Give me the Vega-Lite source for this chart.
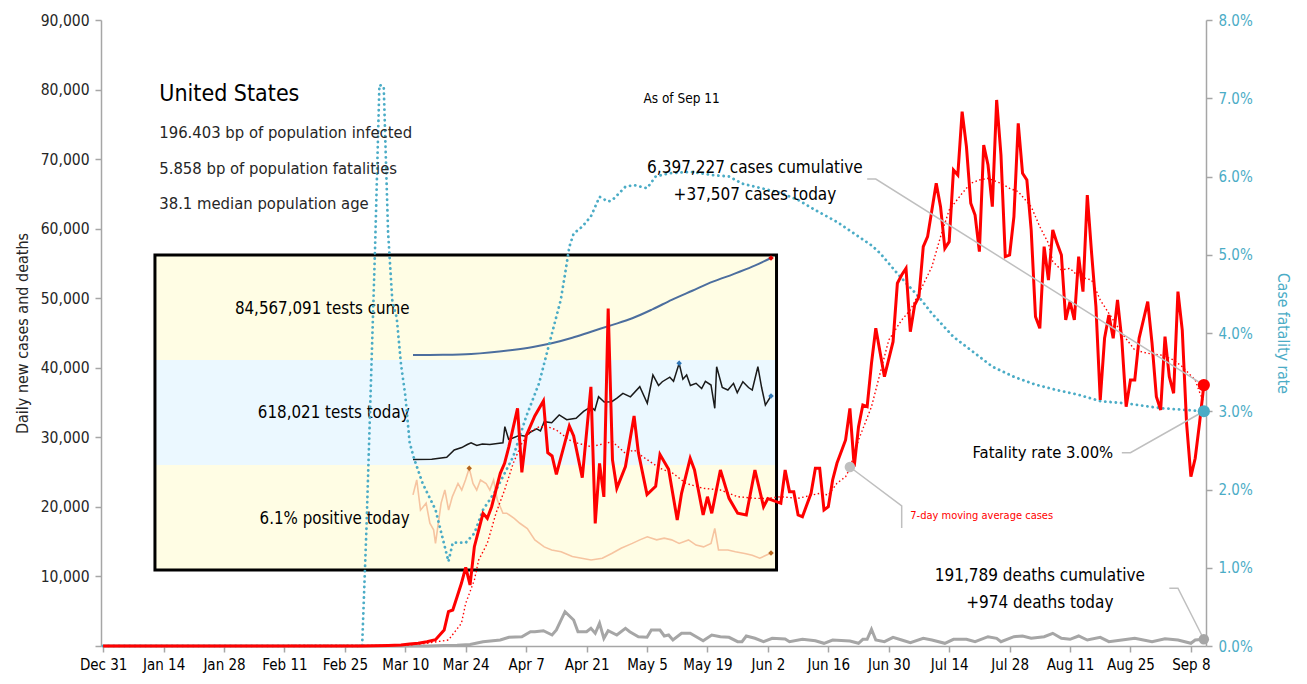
{
  "$schema": "https://vega.github.io/schema/vega-lite/v6.json",
  "width": 1105,
  "height": 626,
  "autosize": {"type": "none"},
  "padding": {"left": 101, "top": 20, "right": 101, "bottom": 38},
  "background": "white",
  "config": {"font": "DejaVu Sans Condensed, Liberation Sans, sans-serif", "view": {"stroke": null}, "axis": {"grid": false}},
  "resolve": {"scale": {"x": "independent", "y": "independent"}, "axis": {"x": "independent", "y": "independent"}},
  "datasets": {
    "bands": [
      {"band": "cume", "start": "2020-01-12", "end": "2020-06-04", "lo": 41118, "hi": 56214},
      {"band": "today", "start": "2020-01-12", "end": "2020-06-04", "lo": 26022, "hi": 41118},
      {"band": "positive", "start": "2020-01-12", "end": "2020-06-04", "lo": 10927, "hi": 26022}
    ],
    "cume": [
      {"date": "2020-03-04", "m": 0}, {"date": "2020-03-20", "m": 0.2}, {"date": "2020-04-04", "m": 0.9},
      {"date": "2020-04-26", "m": 4.4}, {"date": "2020-05-07", "m": 7.0}, {"date": "2020-05-17", "m": 10.2},
      {"date": "2020-05-28", "m": 15.0}, {"date": "2020-06-07", "m": 20.3}, {"date": "2020-06-18", "m": 26.0},
      {"date": "2020-06-29", "m": 32.0}, {"date": "2020-07-10", "m": 40.0}, {"date": "2020-07-20", "m": 48.0},
      {"date": "2020-07-31", "m": 56.0}, {"date": "2020-08-11", "m": 63.9}, {"date": "2020-08-22", "m": 70.5},
      {"date": "2020-09-01", "m": 77.0}, {"date": "2020-09-11", "m": 84.57}
    ],
    "tests": [
      {"date": "2020-03-04", "k": 5}, {"date": "2020-03-14", "k": 7}, {"date": "2020-03-22", "k": 26},
      {"date": "2020-03-26", "k": 97}, {"date": "2020-03-30", "k": 120}, {"date": "2020-04-02", "k": 150},
      {"date": "2020-04-04", "k": 167}, {"date": "2020-04-07", "k": 140}, {"date": "2020-04-10", "k": 155},
      {"date": "2020-04-14", "k": 150}, {"date": "2020-04-18", "k": 160}, {"date": "2020-04-21", "k": 167},
      {"date": "2020-04-22", "k": 322}, {"date": "2020-04-24", "k": 200}, {"date": "2020-04-26", "k": 210},
      {"date": "2020-04-30", "k": 240}, {"date": "2020-05-03", "k": 230}, {"date": "2020-05-06", "k": 273},
      {"date": "2020-05-09", "k": 300}, {"date": "2020-05-11", "k": 280}, {"date": "2020-05-13", "k": 370},
      {"date": "2020-05-17", "k": 360}, {"date": "2020-05-21", "k": 435}, {"date": "2020-05-25", "k": 390},
      {"date": "2020-05-30", "k": 403}, {"date": "2020-06-03", "k": 470}, {"date": "2020-06-07", "k": 515},
      {"date": "2020-06-09", "k": 480}, {"date": "2020-06-11", "k": 611}, {"date": "2020-06-14", "k": 560},
      {"date": "2020-06-18", "k": 563}, {"date": "2020-06-21", "k": 600}, {"date": "2020-06-24", "k": 644},
      {"date": "2020-06-28", "k": 610}, {"date": "2020-07-03", "k": 708}, {"date": "2020-07-07", "k": 548},
      {"date": "2020-07-10", "k": 821}, {"date": "2020-07-13", "k": 720}, {"date": "2020-07-15", "k": 756},
      {"date": "2020-07-19", "k": 800}, {"date": "2020-07-21", "k": 760}, {"date": "2020-07-24", "k": 934},
      {"date": "2020-07-26", "k": 780}, {"date": "2020-07-28", "k": 821}, {"date": "2020-07-30", "k": 720},
      {"date": "2020-08-02", "k": 741}, {"date": "2020-08-05", "k": 690}, {"date": "2020-08-07", "k": 760},
      {"date": "2020-08-10", "k": 724}, {"date": "2020-08-12", "k": 499}, {"date": "2020-08-13", "k": 901},
      {"date": "2020-08-16", "k": 700}, {"date": "2020-08-19", "k": 676}, {"date": "2020-08-22", "k": 740},
      {"date": "2020-08-24", "k": 650}, {"date": "2020-08-27", "k": 756}, {"date": "2020-08-30", "k": 700},
      {"date": "2020-09-01", "k": 676}, {"date": "2020-09-04", "k": 901}, {"date": "2020-09-06", "k": 700},
      {"date": "2020-09-08", "k": 531}, {"date": "2020-09-11", "k": 618}
    ],
    "pos": [
      {"date": "2020-03-04", "p": 19.4}, {"date": "2020-03-06", "p": 22.8}, {"date": "2020-03-08", "p": 15.9},
      {"date": "2020-03-11", "p": 17.5}, {"date": "2020-03-13", "p": 12.9}, {"date": "2020-03-15", "p": 11.4},
      {"date": "2020-03-16", "p": 8.3}, {"date": "2020-03-18", "p": 14.4}, {"date": "2020-03-19", "p": 17.5},
      {"date": "2020-03-21", "p": 20.5}, {"date": "2020-03-23", "p": 15.9}, {"date": "2020-03-25", "p": 19.0},
      {"date": "2020-03-28", "p": 22.0}, {"date": "2020-03-30", "p": 20.5}, {"date": "2020-04-01", "p": 22.8},
      {"date": "2020-04-03", "p": 25.5}, {"date": "2020-04-05", "p": 22.0}, {"date": "2020-04-07", "p": 20.5},
      {"date": "2020-04-09", "p": 22.8}, {"date": "2020-04-12", "p": 22.0}, {"date": "2020-04-14", "p": 20.5},
      {"date": "2020-04-16", "p": 22.8}, {"date": "2020-04-18", "p": 18.2}, {"date": "2020-04-21", "p": 15.2},
      {"date": "2020-04-23", "p": 15.2}, {"date": "2020-04-27", "p": 14.0}, {"date": "2020-04-30", "p": 12.9},
      {"date": "2020-05-04", "p": 11.7}, {"date": "2020-05-08", "p": 9.1}, {"date": "2020-05-13", "p": 7.5},
      {"date": "2020-05-17", "p": 6.8}, {"date": "2020-05-22", "p": 6.4}, {"date": "2020-05-28", "p": 5.3},
      {"date": "2020-06-02", "p": 4.9}, {"date": "2020-06-07", "p": 4.5}, {"date": "2020-06-13", "p": 4.9},
      {"date": "2020-06-18", "p": 6.0}, {"date": "2020-06-23", "p": 7.2}, {"date": "2020-06-29", "p": 8.3},
      {"date": "2020-07-03", "p": 9.1}, {"date": "2020-07-07", "p": 9.8}, {"date": "2020-07-12", "p": 9.1},
      {"date": "2020-07-16", "p": 9.5}, {"date": "2020-07-20", "p": 9.1}, {"date": "2020-07-24", "p": 8.3},
      {"date": "2020-07-29", "p": 9.1}, {"date": "2020-08-02", "p": 7.9}, {"date": "2020-08-06", "p": 7.5},
      {"date": "2020-08-10", "p": 8.3}, {"date": "2020-08-12", "p": 11.7}, {"date": "2020-08-14", "p": 6.8},
      {"date": "2020-08-19", "p": 6.8}, {"date": "2020-08-23", "p": 6.4}, {"date": "2020-08-28", "p": 6.0},
      {"date": "2020-09-01", "p": 5.6}, {"date": "2020-09-05", "p": 4.9}, {"date": "2020-09-11", "p": 6.1}
    ],
    "cfr": [
      {"date": "2019-12-31", "r": 0}, {"date": "2020-02-29", "r": 0}, {"date": "2020-03-01", "r": 1.5},
      {"date": "2020-03-02", "r": 3.3}, {"date": "2020-03-03", "r": 5.1}, {"date": "2020-03-04", "r": 7.17},
      {"date": "2020-03-05", "r": 7.15}, {"date": "2020-03-06", "r": 5.3}, {"date": "2020-03-07", "r": 4.4},
      {"date": "2020-03-08", "r": 4.2}, {"date": "2020-03-09", "r": 3.6}, {"date": "2020-03-10", "r": 3.2},
      {"date": "2020-03-11", "r": 2.6}, {"date": "2020-03-12", "r": 2.4}, {"date": "2020-03-14", "r": 2.08},
      {"date": "2020-03-17", "r": 1.74}, {"date": "2020-03-20", "r": 1.08}, {"date": "2020-03-21", "r": 1.32},
      {"date": "2020-03-24", "r": 1.32}, {"date": "2020-03-26", "r": 1.44}, {"date": "2020-03-28", "r": 1.74},
      {"date": "2020-03-31", "r": 1.99}, {"date": "2020-04-04", "r": 2.42}, {"date": "2020-04-07", "r": 2.93},
      {"date": "2020-04-10", "r": 3.36}, {"date": "2020-04-13", "r": 4.0}, {"date": "2020-04-15", "r": 4.42},
      {"date": "2020-04-16", "r": 4.75}, {"date": "2020-04-17", "r": 5.1}, {"date": "2020-04-18", "r": 5.27},
      {"date": "2020-04-20", "r": 5.36}, {"date": "2020-04-22", "r": 5.49}, {"date": "2020-04-24", "r": 5.74},
      {"date": "2020-04-26", "r": 5.68}, {"date": "2020-04-27", "r": 5.70}, {"date": "2020-04-30", "r": 5.87},
      {"date": "2020-05-02", "r": 5.89}, {"date": "2020-05-05", "r": 5.85}, {"date": "2020-05-07", "r": 6.0},
      {"date": "2020-05-10", "r": 6.04}, {"date": "2020-05-15", "r": 6.06}, {"date": "2020-05-20", "r": 6.02},
      {"date": "2020-05-24", "r": 6.0}, {"date": "2020-05-27", "r": 5.91}, {"date": "2020-05-30", "r": 5.87},
      {"date": "2020-06-05", "r": 5.79}, {"date": "2020-06-09", "r": 5.70}, {"date": "2020-06-13", "r": 5.57},
      {"date": "2020-06-18", "r": 5.42}, {"date": "2020-06-22", "r": 5.27}, {"date": "2020-06-26", "r": 5.12},
      {"date": "2020-06-28", "r": 5.02}, {"date": "2020-07-02", "r": 4.76}, {"date": "2020-07-07", "r": 4.46},
      {"date": "2020-07-10", "r": 4.25}, {"date": "2020-07-15", "r": 3.95}, {"date": "2020-07-20", "r": 3.74},
      {"date": "2020-07-24", "r": 3.57}, {"date": "2020-07-29", "r": 3.44}, {"date": "2020-08-03", "r": 3.34},
      {"date": "2020-08-08", "r": 3.27}, {"date": "2020-08-13", "r": 3.21}, {"date": "2020-08-18", "r": 3.13},
      {"date": "2020-08-24", "r": 3.10}, {"date": "2020-09-01", "r": 3.04}, {"date": "2020-09-06", "r": 3.02},
      {"date": "2020-09-11", "r": 3.00}
    ],
    "deaths": [
      {"date": "2019-12-31", "v": 0}, {"date": "2020-02-29", "v": 0}, {"date": "2020-03-05", "v": 2},
      {"date": "2020-03-10", "v": 5}, {"date": "2020-03-15", "v": 15}, {"date": "2020-03-19", "v": 60},
      {"date": "2020-03-22", "v": 120}, {"date": "2020-03-25", "v": 230}, {"date": "2020-03-28", "v": 618},
      {"date": "2020-04-01", "v": 863}, {"date": "2020-04-03", "v": 1251}, {"date": "2020-04-06", "v": 1337},
      {"date": "2020-04-08", "v": 2056}, {"date": "2020-04-09", "v": 2056}, {"date": "2020-04-11", "v": 2200},
      {"date": "2020-04-13", "v": 1581}, {"date": "2020-04-14", "v": 2300}, {"date": "2020-04-16", "v": 4931},
      {"date": "2020-04-18", "v": 3738}, {"date": "2020-04-19", "v": 2056}, {"date": "2020-04-21", "v": 2056},
      {"date": "2020-04-22", "v": 2545}, {"date": "2020-04-23", "v": 1826}, {"date": "2020-04-24", "v": 3264},
      {"date": "2020-04-25", "v": 1107}, {"date": "2020-04-26", "v": 2200}, {"date": "2020-04-28", "v": 1581},
      {"date": "2020-04-30", "v": 2545}, {"date": "2020-05-01", "v": 2056}, {"date": "2020-05-03", "v": 1337},
      {"date": "2020-05-05", "v": 1251}, {"date": "2020-05-06", "v": 2300}, {"date": "2020-05-08", "v": 2300},
      {"date": "2020-05-09", "v": 1438}, {"date": "2020-05-10", "v": 1581}, {"date": "2020-05-11", "v": 863},
      {"date": "2020-05-13", "v": 1826}, {"date": "2020-05-15", "v": 1826}, {"date": "2020-05-18", "v": 762},
      {"date": "2020-05-20", "v": 1581}, {"date": "2020-05-22", "v": 1337}, {"date": "2020-05-24", "v": 1251},
      {"date": "2020-05-26", "v": 618}, {"date": "2020-05-27", "v": 618}, {"date": "2020-05-28", "v": 1438},
      {"date": "2020-05-30", "v": 1107}, {"date": "2020-06-01", "v": 618}, {"date": "2020-06-03", "v": 1107},
      {"date": "2020-06-06", "v": 1006}, {"date": "2020-06-07", "v": 618}, {"date": "2020-06-10", "v": 963},
      {"date": "2020-06-13", "v": 762}, {"date": "2020-06-15", "v": 388}, {"date": "2020-06-17", "v": 863},
      {"date": "2020-06-21", "v": 719}, {"date": "2020-06-23", "v": 388}, {"date": "2020-06-24", "v": 963},
      {"date": "2020-06-25", "v": 963}, {"date": "2020-06-26", "v": 2401}, {"date": "2020-06-27", "v": 863},
      {"date": "2020-06-29", "v": 618}, {"date": "2020-07-01", "v": 1251}, {"date": "2020-07-03", "v": 863},
      {"date": "2020-07-05", "v": 474}, {"date": "2020-07-08", "v": 1107}, {"date": "2020-07-10", "v": 863},
      {"date": "2020-07-13", "v": 388}, {"date": "2020-07-15", "v": 963}, {"date": "2020-07-18", "v": 963},
      {"date": "2020-07-20", "v": 618}, {"date": "2020-07-23", "v": 1337}, {"date": "2020-07-25", "v": 1107},
      {"date": "2020-07-26", "v": 618}, {"date": "2020-07-29", "v": 1337}, {"date": "2020-07-31", "v": 1438},
      {"date": "2020-08-02", "v": 1107}, {"date": "2020-08-05", "v": 1337}, {"date": "2020-08-07", "v": 1826},
      {"date": "2020-08-09", "v": 1107}, {"date": "2020-08-11", "v": 963}, {"date": "2020-08-13", "v": 1438},
      {"date": "2020-08-15", "v": 863}, {"date": "2020-08-18", "v": 1251}, {"date": "2020-08-20", "v": 618},
      {"date": "2020-08-23", "v": 863}, {"date": "2020-08-26", "v": 1107}, {"date": "2020-08-28", "v": 863},
      {"date": "2020-08-30", "v": 618}, {"date": "2020-09-02", "v": 1050}, {"date": "2020-09-05", "v": 863},
      {"date": "2020-09-08", "v": 388}, {"date": "2020-09-09", "v": 863}, {"date": "2020-09-11", "v": 974}
    ],
    "avg": [
      {"date": "2019-12-31", "v": 0}, {"date": "2020-03-10", "v": 100}, {"date": "2020-03-15", "v": 400},
      {"date": "2020-03-20", "v": 863}, {"date": "2020-03-23", "v": 3264}, {"date": "2020-03-24", "v": 6140},
      {"date": "2020-03-26", "v": 9490}, {"date": "2020-03-27", "v": 12360}, {"date": "2020-03-29", "v": 14765},
      {"date": "2020-03-31", "v": 19078}, {"date": "2020-04-02", "v": 22428}, {"date": "2020-04-04", "v": 26267},
      {"date": "2020-04-06", "v": 29142}, {"date": "2020-04-08", "v": 30810}, {"date": "2020-04-10", "v": 31530},
      {"date": "2020-04-12", "v": 31530}, {"date": "2020-04-14", "v": 31050}, {"date": "2020-04-17", "v": 29620},
      {"date": "2020-04-19", "v": 29140}, {"date": "2020-04-22", "v": 28654}, {"date": "2020-04-27", "v": 29370},
      {"date": "2020-04-30", "v": 27700}, {"date": "2020-05-02", "v": 28180}, {"date": "2020-05-04", "v": 27220},
      {"date": "2020-05-08", "v": 25550}, {"date": "2020-05-11", "v": 24830}, {"date": "2020-05-14", "v": 23390},
      {"date": "2020-05-18", "v": 22670}, {"date": "2020-05-22", "v": 22430}, {"date": "2020-05-26", "v": 21460},
      {"date": "2020-05-30", "v": 21230}, {"date": "2020-06-02", "v": 21230}, {"date": "2020-06-05", "v": 21460},
      {"date": "2020-06-09", "v": 21230}, {"date": "2020-06-14", "v": 21950}, {"date": "2020-06-16", "v": 21710},
      {"date": "2020-06-18", "v": 23390}, {"date": "2020-06-20", "v": 24340}, {"date": "2020-06-21", "v": 25550},
      {"date": "2020-06-23", "v": 29620}, {"date": "2020-06-26", "v": 34400}, {"date": "2020-06-28", "v": 39210},
      {"date": "2020-06-30", "v": 43990}, {"date": "2020-07-03", "v": 46870}, {"date": "2020-07-05", "v": 48310},
      {"date": "2020-07-07", "v": 50710}, {"date": "2020-07-10", "v": 54530}, {"date": "2020-07-12", "v": 58850},
      {"date": "2020-07-14", "v": 62680}, {"date": "2020-07-17", "v": 65080}, {"date": "2020-07-19", "v": 66520},
      {"date": "2020-07-21", "v": 67000}, {"date": "2020-07-23", "v": 67240}, {"date": "2020-07-26", "v": 66520},
      {"date": "2020-07-28", "v": 65800}, {"date": "2020-07-30", "v": 65320}, {"date": "2020-08-02", "v": 63160},
      {"date": "2020-08-04", "v": 60280}, {"date": "2020-08-06", "v": 57890}, {"date": "2020-08-07", "v": 55250},
      {"date": "2020-08-09", "v": 54060}, {"date": "2020-08-11", "v": 54300}, {"date": "2020-08-13", "v": 53100},
      {"date": "2020-08-16", "v": 52620}, {"date": "2020-08-18", "v": 49740}, {"date": "2020-08-20", "v": 47830},
      {"date": "2020-08-23", "v": 44960}, {"date": "2020-08-26", "v": 42560}, {"date": "2020-08-29", "v": 42080},
      {"date": "2020-09-01", "v": 41840}, {"date": "2020-09-04", "v": 41120}, {"date": "2020-09-06", "v": 40160},
      {"date": "2020-09-09", "v": 38240}, {"date": "2020-09-10", "v": 36500}, {"date": "2020-09-11", "v": 35000}
    ],
    "cases": [
      {"date": "2019-12-31", "v": 0}, {"date": "2020-02-29", "v": 10}, {"date": "2020-03-03", "v": 20},
      {"date": "2020-03-06", "v": 60}, {"date": "2020-03-09", "v": 140}, {"date": "2020-03-11", "v": 290},
      {"date": "2020-03-13", "v": 388}, {"date": "2020-03-15", "v": 618}, {"date": "2020-03-17", "v": 900},
      {"date": "2020-03-19", "v": 2300}, {"date": "2020-03-20", "v": 4931}, {"date": "2020-03-21", "v": 5176},
      {"date": "2020-03-22", "v": 7088}, {"date": "2020-03-23", "v": 9014}, {"date": "2020-03-24", "v": 11315},
      {"date": "2020-03-25", "v": 8770}, {"date": "2020-03-26", "v": 14276}, {"date": "2020-03-27", "v": 16677},
      {"date": "2020-03-28", "v": 19078}, {"date": "2020-03-29", "v": 18360}, {"date": "2020-03-30", "v": 20027},
      {"date": "2020-04-01", "v": 24829}, {"date": "2020-04-02", "v": 26267}, {"date": "2020-04-03", "v": 28654},
      {"date": "2020-04-05", "v": 34174}, {"date": "2020-04-06", "v": 24973}, {"date": "2020-04-07", "v": 30192},
      {"date": "2020-04-09", "v": 33068}, {"date": "2020-04-11", "v": 35224}, {"date": "2020-04-12", "v": 27800},
      {"date": "2020-04-13", "v": 27320}, {"date": "2020-04-14", "v": 24685}, {"date": "2020-04-17", "v": 31634},
      {"date": "2020-04-18", "v": 30196}, {"date": "2020-04-20", "v": 24206}, {"date": "2020-04-22", "v": 37255},
      {"date": "2020-04-23", "v": 17611}, {"date": "2020-04-24", "v": 26243}, {"date": "2020-04-25", "v": 21436},
      {"date": "2020-04-26", "v": 48529}, {"date": "2020-04-27", "v": 26747}, {"date": "2020-04-28", "v": 22684},
      {"date": "2020-04-30", "v": 25800}, {"date": "2020-05-02", "v": 33068}, {"date": "2020-05-03", "v": 27800},
      {"date": "2020-05-05", "v": 21770}, {"date": "2020-05-07", "v": 22960}, {"date": "2020-05-08", "v": 27520},
      {"date": "2020-05-10", "v": 25400}, {"date": "2020-05-12", "v": 18112}, {"date": "2020-05-13", "v": 21950},
      {"date": "2020-05-15", "v": 26980}, {"date": "2020-05-16", "v": 25300}, {"date": "2020-05-18", "v": 18830},
      {"date": "2020-05-19", "v": 21460}, {"date": "2020-05-20", "v": 19080}, {"date": "2020-05-22", "v": 25300},
      {"date": "2020-05-24", "v": 21230}, {"date": "2020-05-26", "v": 19080}, {"date": "2020-05-28", "v": 18830},
      {"date": "2020-05-30", "v": 25300}, {"date": "2020-06-01", "v": 20020}, {"date": "2020-06-02", "v": 21200},
      {"date": "2020-06-05", "v": 20516}, {"date": "2020-06-06", "v": 25300}, {"date": "2020-06-07", "v": 22190},
      {"date": "2020-06-08", "v": 22190}, {"date": "2020-06-09", "v": 18830}, {"date": "2020-06-10", "v": 18590},
      {"date": "2020-06-12", "v": 21950}, {"date": "2020-06-13", "v": 25550}, {"date": "2020-06-14", "v": 25550},
      {"date": "2020-06-15", "v": 19550}, {"date": "2020-06-16", "v": 20030}, {"date": "2020-06-17", "v": 23870},
      {"date": "2020-06-18", "v": 26270}, {"date": "2020-06-20", "v": 29620}, {"date": "2020-06-21", "v": 34170},
      {"date": "2020-06-22", "v": 25780}, {"date": "2020-06-23", "v": 31530}, {"date": "2020-06-24", "v": 34650},
      {"date": "2020-06-25", "v": 34400}, {"date": "2020-06-26", "v": 40640}, {"date": "2020-06-27", "v": 45680},
      {"date": "2020-06-29", "v": 38720}, {"date": "2020-07-01", "v": 43750}, {"date": "2020-07-02", "v": 52150},
      {"date": "2020-07-03", "v": 53340}, {"date": "2020-07-04", "v": 54300}, {"date": "2020-07-05", "v": 45190},
      {"date": "2020-07-06", "v": 49030}, {"date": "2020-07-07", "v": 50220}, {"date": "2020-07-08", "v": 57410},
      {"date": "2020-07-09", "v": 58850}, {"date": "2020-07-11", "v": 66520}, {"date": "2020-07-12", "v": 63160},
      {"date": "2020-07-13", "v": 57180}, {"date": "2020-07-14", "v": 58130}, {"date": "2020-07-15", "v": 68430},
      {"date": "2020-07-16", "v": 67710}, {"date": "2020-07-17", "v": 76820}, {"date": "2020-07-18", "v": 71790},
      {"date": "2020-07-19", "v": 63650}, {"date": "2020-07-20", "v": 61960}, {"date": "2020-07-21", "v": 56690},
      {"date": "2020-07-22", "v": 72030}, {"date": "2020-07-23", "v": 69150}, {"date": "2020-07-24", "v": 63160},
      {"date": "2020-07-25", "v": 78500}, {"date": "2020-07-26", "v": 70590}, {"date": "2020-07-27", "v": 55970},
      {"date": "2020-07-28", "v": 56210}, {"date": "2020-07-29", "v": 61720}, {"date": "2020-07-30", "v": 75150},
      {"date": "2020-07-31", "v": 67950}, {"date": "2020-08-01", "v": 66990}, {"date": "2020-08-02", "v": 59810},
      {"date": "2020-08-03", "v": 47340}, {"date": "2020-08-04", "v": 45670}, {"date": "2020-08-05", "v": 57410},
      {"date": "2020-08-06", "v": 52620}, {"date": "2020-08-07", "v": 59810}, {"date": "2020-08-08", "v": 57890},
      {"date": "2020-08-09", "v": 56210}, {"date": "2020-08-10", "v": 46870}, {"date": "2020-08-11", "v": 49500},
      {"date": "2020-08-12", "v": 46870}, {"date": "2020-08-13", "v": 55970}, {"date": "2020-08-14", "v": 50940},
      {"date": "2020-08-15", "v": 64840}, {"date": "2020-08-16", "v": 56460}, {"date": "2020-08-17", "v": 48780},
      {"date": "2020-08-18", "v": 35370}, {"date": "2020-08-19", "v": 44240}, {"date": "2020-08-20", "v": 47590},
      {"date": "2020-08-21", "v": 44240}, {"date": "2020-08-22", "v": 49740}, {"date": "2020-08-23", "v": 43990},
      {"date": "2020-08-24", "v": 34400}, {"date": "2020-08-25", "v": 38240}, {"date": "2020-08-26", "v": 38240},
      {"date": "2020-08-27", "v": 44240}, {"date": "2020-08-28", "v": 46870}, {"date": "2020-08-29", "v": 49500},
      {"date": "2020-08-30", "v": 43520}, {"date": "2020-08-31", "v": 35840}, {"date": "2020-09-01", "v": 33930},
      {"date": "2020-09-02", "v": 44470}, {"date": "2020-09-03", "v": 38720}, {"date": "2020-09-04", "v": 36330},
      {"date": "2020-09-05", "v": 50940}, {"date": "2020-09-06", "v": 45430}, {"date": "2020-09-07", "v": 32020},
      {"date": "2020-09-08", "v": 24340}, {"date": "2020-09-09", "v": 26990}, {"date": "2020-09-10", "v": 32020},
      {"date": "2020-09-11", "v": 37507}
    ],
    "leaders": [
      {"g": "cases", "i": 0, "date": "2020-06-25", "v": 67141},
      {"g": "cases", "i": 1, "date": "2020-06-27", "v": 67141},
      {"g": "cases", "i": 2, "date": "2020-09-11", "v": 37507},
      {"g": "avg", "i": 0, "date": "2020-06-21", "v": 25735},
      {"g": "avg", "i": 1, "date": "2020-07-03", "v": 20128},
      {"g": "avg", "i": 2, "date": "2020-07-03", "v": 16965},
      {"g": "deaths", "i": 0, "date": "2020-09-03", "v": 8300},
      {"g": "deaths", "i": 1, "date": "2020-09-05", "v": 8300},
      {"g": "deaths", "i": 2, "date": "2020-09-11", "v": 974}
    ],
    "cfrLeader": [
      {"i": 0, "date": "2020-08-23", "r": 2.47},
      {"i": 1, "date": "2020-08-25", "r": 2.47},
      {"i": 2, "date": "2020-09-11", "r": 3.0}
    ]
  },
  "layer": [
    {
      "data": {"name": "bands"},
      "mark": {"type": "rect"},
      "encoding": {
        "x": {"field": "start", "type": "temporal", "scale": {"type": "utc", "nice": false, "domain": [{"year": 2019, "month": 12, "date": 30, "hours": 12, "utc": true}, {"year": 2020, "month": 9, "date": 11, "hours": 12, "utc": true}]}, "axis": null},
        "x2": {"field": "end"},
        "y": {"field": "lo", "type": "quantitative", "scale": {"domain": [0, 90000], "nice": false, "zero": false}, "axis": null},
        "y2": {"field": "hi"},
        "color": {"field": "band", "type": "nominal", "scale": {"domain": ["cume", "today", "positive"], "range": ["#FFFDE4", "#EBF8FF", "#FFFDE4"]}, "legend": null}
      }
    },
    {
      "data": {"values": [{"start": "2020-01-12", "end": "2020-06-04", "lo": 10927, "hi": 56214}]},
      "mark": {"type": "rect", "fillOpacity": 0, "stroke": "#000000", "strokeWidth": 3},
      "encoding": {
        "x": {"field": "start", "type": "temporal", "scale": {"type": "utc", "nice": false, "domain": [{"year": 2019, "month": 12, "date": 30, "hours": 12, "utc": true}, {"year": 2020, "month": 9, "date": 11, "hours": 12, "utc": true}]}, "axis": null},
        "x2": {"field": "end"},
        "y": {"field": "lo", "type": "quantitative", "scale": {"domain": [0, 90000], "nice": false, "zero": false}, "axis": null},
        "y2": {"field": "hi"}
      }
    },
    {
      "data": {"name": "cume"},
      "mark": {"type": "line", "color": "#4C6E9E", "strokeWidth": 2, "interpolate": "monotone"},
      "encoding": {
        "x": {"field": "date", "type": "temporal", "scale": {"type": "utc", "nice": false, "domain": [{"year": 2019, "month": 9, "date": 19, "hours": 13, "utc": true}, {"year": 2021, "month": 5, "date": 1, "hours": 2, "utc": true}]}, "axis": null},
        "y": {"field": "m", "type": "quantitative", "scale": {"domain": [-253.8, 292.1], "nice": false, "zero": false}, "axis": null}
      }
    },
    {
      "data": {"name": "tests"},
      "mark": {"type": "line", "color": "#1A1A1A", "strokeWidth": 1.5},
      "encoding": {
        "x": {"field": "date", "type": "temporal", "scale": {"type": "utc", "nice": false, "domain": [{"year": 2019, "month": 9, "date": 19, "hours": 13, "utc": true}, {"year": 2021, "month": 5, "date": 1, "hours": 2, "utc": true}]}, "axis": null},
        "y": {"field": "k", "type": "quantitative", "scale": {"domain": [-1796, 4249], "nice": false, "zero": false}, "axis": null}
      }
    },
    {
      "data": {"name": "pos"},
      "mark": {"type": "line", "color": "#F6C4A0", "strokeWidth": 1.6},
      "encoding": {
        "x": {"field": "date", "type": "temporal", "scale": {"type": "utc", "nice": false, "domain": [{"year": 2019, "month": 9, "date": 19, "hours": 13, "utc": true}, {"year": 2021, "month": 5, "date": 1, "hours": 2, "utc": true}]}, "axis": null},
        "y": {"field": "p", "type": "quantitative", "scale": {"domain": [-15.16, 127.95], "nice": false, "zero": false}, "axis": null}
      }
    },
    {
      "data": {"values": [{"date": "2020-09-11", "m": 84.57}]},
      "mark": {"type": "point", "shape": "diamond", "filled": true, "size": 30, "color": "#E00000", "opacity": 1},
      "encoding": {
        "x": {"field": "date", "type": "temporal", "scale": {"type": "utc", "nice": false, "domain": [{"year": 2019, "month": 9, "date": 19, "hours": 13, "utc": true}, {"year": 2021, "month": 5, "date": 1, "hours": 2, "utc": true}]}, "axis": null},
        "y": {"field": "m", "type": "quantitative", "scale": {"domain": [-253.8, 292.1], "nice": false, "zero": false}, "axis": null}
      }
    },
    {
      "data": {"values": [{"date": "2020-07-24", "k": 934}, {"date": "2020-09-11", "k": 618}]},
      "mark": {"type": "point", "shape": "diamond", "filled": true, "size": 30, "color": "#2E75B6", "opacity": 1},
      "encoding": {
        "x": {"field": "date", "type": "temporal", "scale": {"type": "utc", "nice": false, "domain": [{"year": 2019, "month": 9, "date": 19, "hours": 13, "utc": true}, {"year": 2021, "month": 5, "date": 1, "hours": 2, "utc": true}]}, "axis": null},
        "y": {"field": "k", "type": "quantitative", "scale": {"domain": [-1796, 4249], "nice": false, "zero": false}, "axis": null}
      }
    },
    {
      "data": {"values": [{"date": "2020-04-03", "p": 25.5}, {"date": "2020-09-11", "p": 6.1}]},
      "mark": {"type": "point", "shape": "diamond", "filled": true, "size": 30, "color": "#B5651D", "opacity": 1},
      "encoding": {
        "x": {"field": "date", "type": "temporal", "scale": {"type": "utc", "nice": false, "domain": [{"year": 2019, "month": 9, "date": 19, "hours": 13, "utc": true}, {"year": 2021, "month": 5, "date": 1, "hours": 2, "utc": true}]}, "axis": null},
        "y": {"field": "p", "type": "quantitative", "scale": {"domain": [-15.16, 127.95], "nice": false, "zero": false}, "axis": null}
      }
    },
    {
      "data": {"values": [
        {"date": "2020-03-11", "v": 48450, "t": "84,567,091 tests cume"},
        {"date": "2020-03-11", "v": 33498, "t": "618,021 tests today"},
        {"date": "2020-03-11", "v": 18259, "t": "6.1% positive today"}
      ]},
      "mark": {"type": "text", "align": "right", "baseline": "middle", "fontSize": 16.8, "color": "#000000"},
      "encoding": {
        "x": {"field": "date", "type": "temporal", "scale": {"type": "utc", "nice": false, "domain": [{"year": 2019, "month": 12, "date": 30, "hours": 12, "utc": true}, {"year": 2020, "month": 9, "date": 11, "hours": 12, "utc": true}]}, "axis": null},
        "y": {"field": "v", "type": "quantitative", "scale": {"domain": [0, 90000], "nice": false, "zero": false}, "axis": null},
        "text": {"field": "t"}
      }
    },
    {
      "data": {"name": "cfr"},
      "mark": {"type": "line", "color": "#4BACC6", "strokeWidth": 2.8, "strokeDash": [0.1, 5.2], "strokeCap": "round"},
      "encoding": {
        "x": {"field": "date", "type": "temporal", "scale": {"type": "utc", "nice": false, "domain": [{"year": 2019, "month": 12, "date": 30, "hours": 12, "utc": true}, {"year": 2020, "month": 9, "date": 11, "hours": 12, "utc": true}]}, "axis": null},
        "y": {"field": "r", "type": "quantitative", "scale": {"domain": [0, 8], "nice": false, "zero": false},
          "axis": {"orient": "right", "values": [0, 1, 2, 3, 4, 5, 6, 7, 8], "labelExpr": "format(datum.value, '.1f') + '%'", "title": "Case fatality rate", "titleColor": "#4BACC6", "titleFontSize": 15.6, "titleFontWeight": "normal", "titlePadding": 22, "labelColor": "#4BACC6", "labelFontSize": 15, "labelPadding": 6, "domainColor": "#A6A6A6", "domainWidth": 1.5, "tickColor": "#A6A6A6", "tickWidth": 1.5, "tickSize": 6, "grid": false}}
      }
    },
    {
      "data": {"name": "deaths"},
      "mark": {"type": "line", "color": "#A6A6A6", "strokeWidth": 3},
      "encoding": {
        "x": {"field": "date", "type": "temporal", "scale": {"type": "utc", "nice": false, "domain": [{"year": 2019, "month": 12, "date": 30, "hours": 12, "utc": true}, {"year": 2020, "month": 9, "date": 11, "hours": 12, "utc": true}]}, "axis": null},
        "y": {"field": "v", "type": "quantitative", "scale": {"domain": [0, 90000], "nice": false, "zero": false}, "axis": null}
      }
    },
    {
      "data": {"name": "avg"},
      "mark": {"type": "line", "color": "#FF0000", "strokeWidth": 1.4, "strokeDash": [1.5, 2.5]},
      "encoding": {
        "x": {"field": "date", "type": "temporal", "scale": {"type": "utc", "nice": false, "domain": [{"year": 2019, "month": 12, "date": 30, "hours": 12, "utc": true}, {"year": 2020, "month": 9, "date": 11, "hours": 12, "utc": true}]}, "axis": null},
        "y": {"field": "v", "type": "quantitative", "scale": {"domain": [0, 90000], "nice": false, "zero": false}, "axis": null}
      }
    },
    {
      "data": {"name": "cases"},
      "mark": {"type": "line", "color": "#FF0000", "strokeWidth": 3},
      "encoding": {
        "x": {"field": "date", "type": "temporal", "scale": {"type": "utc", "nice": false, "domain": [{"year": 2019, "month": 12, "date": 30, "hours": 12, "utc": true}, {"year": 2020, "month": 9, "date": 11, "hours": 12, "utc": true}]},
          "axis": {"values": [
            {"year": 2019, "month": 12, "date": 31, "utc": true}, {"year": 2020, "month": 1, "date": 14, "utc": true},
            {"year": 2020, "month": 1, "date": 28, "utc": true}, {"year": 2020, "month": 2, "date": 11, "utc": true},
            {"year": 2020, "month": 2, "date": 25, "utc": true}, {"year": 2020, "month": 3, "date": 10, "utc": true},
            {"year": 2020, "month": 3, "date": 24, "utc": true}, {"year": 2020, "month": 4, "date": 7, "utc": true},
            {"year": 2020, "month": 4, "date": 21, "utc": true}, {"year": 2020, "month": 5, "date": 5, "utc": true},
            {"year": 2020, "month": 5, "date": 19, "utc": true}, {"year": 2020, "month": 6, "date": 2, "utc": true},
            {"year": 2020, "month": 6, "date": 16, "utc": true}, {"year": 2020, "month": 6, "date": 30, "utc": true},
            {"year": 2020, "month": 7, "date": 14, "utc": true}, {"year": 2020, "month": 7, "date": 28, "utc": true},
            {"year": 2020, "month": 8, "date": 11, "utc": true}, {"year": 2020, "month": 8, "date": 25, "utc": true},
            {"year": 2020, "month": 9, "date": 8, "utc": true}],
            "labelExpr": "utcFormat(datum.value, '%b %-d')", "title": null, "labelFontSize": 15, "labelColor": "#000000", "labelPadding": 5, "labelOverlap": false, "labelFlush": false,
            "domainColor": "#A6A6A6", "domainWidth": 1.5, "tickColor": "#A6A6A6", "tickWidth": 1.5, "tickSize": 6, "grid": false}},
        "y": {"field": "v", "type": "quantitative", "scale": {"domain": [0, 90000], "nice": false, "zero": false},
          "axis": {"orient": "left", "values": [0, 10000, 20000, 30000, 40000, 50000, 60000, 70000, 80000, 90000], "labelExpr": "datum.value == 0 ? '' : format(datum.value, ',')", "title": "Daily new cases and deaths", "titleColor": "#262626", "titleFontSize": 16, "titleFontWeight": "normal", "titlePadding": 10, "labelColor": "#262626", "labelFontSize": 15.5, "labelPadding": 6, "domainColor": "#A6A6A6", "domainWidth": 1.5, "tickColor": "#A6A6A6", "tickWidth": 1.5, "tickSize": 6, "grid": false}}
      }
    },
    {
      "data": {"name": "leaders"},
      "mark": {"type": "line", "color": "#BFBFBF", "strokeWidth": 1.5},
      "encoding": {
        "x": {"field": "date", "type": "temporal", "scale": {"type": "utc", "nice": false, "domain": [{"year": 2019, "month": 12, "date": 30, "hours": 12, "utc": true}, {"year": 2020, "month": 9, "date": 11, "hours": 12, "utc": true}]}, "axis": null},
        "y": {"field": "v", "type": "quantitative", "scale": {"domain": [0, 90000], "nice": false, "zero": false}, "axis": null},
        "detail": {"field": "g"},
        "order": {"field": "i"}
      }
    },
    {
      "data": {"name": "cfrLeader"},
      "mark": {"type": "line", "color": "#BFBFBF", "strokeWidth": 1.5},
      "encoding": {
        "x": {"field": "date", "type": "temporal", "scale": {"type": "utc", "nice": false, "domain": [{"year": 2019, "month": 12, "date": 30, "hours": 12, "utc": true}, {"year": 2020, "month": 9, "date": 11, "hours": 12, "utc": true}]}, "axis": null},
        "y": {"field": "r", "type": "quantitative", "scale": {"domain": [0, 8], "nice": false, "zero": false}, "axis": null},
        "order": {"field": "i"}
      }
    },
    {
      "data": {"values": [{"date": "2020-06-21", "v": 25735}]},
      "mark": {"type": "circle", "size": 110, "color": "#BFBFBF", "opacity": 1},
      "encoding": {
        "x": {"field": "date", "type": "temporal", "scale": {"type": "utc", "nice": false, "domain": [{"year": 2019, "month": 12, "date": 30, "hours": 12, "utc": true}, {"year": 2020, "month": 9, "date": 11, "hours": 12, "utc": true}]}, "axis": null},
        "y": {"field": "v", "type": "quantitative", "scale": {"domain": [0, 90000], "nice": false, "zero": false}, "axis": null}
      }
    },
    {
      "data": {"values": [{"date": "2020-09-11", "v": 974}]},
      "mark": {"type": "circle", "size": 110, "color": "#A6A6A6", "opacity": 1},
      "encoding": {
        "x": {"field": "date", "type": "temporal", "scale": {"type": "utc", "nice": false, "domain": [{"year": 2019, "month": 12, "date": 30, "hours": 12, "utc": true}, {"year": 2020, "month": 9, "date": 11, "hours": 12, "utc": true}]}, "axis": null},
        "y": {"field": "v", "type": "quantitative", "scale": {"domain": [0, 90000], "nice": false, "zero": false}, "axis": null}
      }
    },
    {
      "data": {"values": [{"date": "2020-09-11", "v": 37507}]},
      "mark": {"type": "circle", "size": 150, "color": "#FF0000", "opacity": 1},
      "encoding": {
        "x": {"field": "date", "type": "temporal", "scale": {"type": "utc", "nice": false, "domain": [{"year": 2019, "month": 12, "date": 30, "hours": 12, "utc": true}, {"year": 2020, "month": 9, "date": 11, "hours": 12, "utc": true}]}, "axis": null},
        "y": {"field": "v", "type": "quantitative", "scale": {"domain": [0, 90000], "nice": false, "zero": false}, "axis": null}
      }
    },
    {
      "data": {"values": [{"date": "2020-09-11", "r": 3.0}]},
      "mark": {"type": "circle", "size": 150, "color": "#4BACC6", "opacity": 1},
      "encoding": {
        "x": {"field": "date", "type": "temporal", "scale": {"type": "utc", "nice": false, "domain": [{"year": 2019, "month": 12, "date": 30, "hours": 12, "utc": true}, {"year": 2020, "month": 9, "date": 11, "hours": 12, "utc": true}]}, "axis": null},
        "y": {"field": "r", "type": "quantitative", "scale": {"domain": [0, 8], "nice": false, "zero": false}, "axis": null}
      }
    },
    {
      "data": {"values": [{"date": "2020-01-13", "v": 79361, "t": "United States"}]},
      "mark": {"type": "text", "align": "left", "baseline": "middle", "fontSize": 23, "color": "#000000"},
      "encoding": {
        "x": {"field": "date", "type": "temporal", "scale": {"type": "utc", "nice": false, "domain": [{"year": 2019, "month": 12, "date": 30, "hours": 12, "utc": true}, {"year": 2020, "month": 9, "date": 11, "hours": 12, "utc": true}]}, "axis": null},
        "y": {"field": "v", "type": "quantitative", "scale": {"domain": [0, 90000], "nice": false, "zero": false}, "axis": null},
        "text": {"field": "t"}
      }
    },
    {
      "data": {"values": [
        {"date": "2020-01-13", "v": 73754, "t": "196.403 bp of population infected"},
        {"date": "2020-01-13", "v": 68578, "t": "5.858 bp of population fatalities"},
        {"date": "2020-01-13", "v": 63546, "t": "38.1 median population age"}
      ]},
      "mark": {"type": "text", "align": "left", "baseline": "middle", "fontSize": 16.5, "color": "#262626"},
      "encoding": {
        "x": {"field": "date", "type": "temporal", "scale": {"type": "utc", "nice": false, "domain": [{"year": 2019, "month": 12, "date": 30, "hours": 12, "utc": true}, {"year": 2020, "month": 9, "date": 11, "hours": 12, "utc": true}]}, "axis": null},
        "y": {"field": "v", "type": "quantitative", "scale": {"domain": [0, 90000], "nice": false, "zero": false}, "axis": null},
        "text": {"field": "t"}
      }
    },
    {
      "data": {"values": [{"date": "2020-05-13", "v": 78642, "t": "As of Sep 11"}]},
      "mark": {"type": "text", "align": "center", "baseline": "middle", "fontSize": 13.5, "color": "#000000"},
      "encoding": {
        "x": {"field": "date", "type": "temporal", "scale": {"type": "utc", "nice": false, "domain": [{"year": 2019, "month": 12, "date": 30, "hours": 12, "utc": true}, {"year": 2020, "month": 9, "date": 11, "hours": 12, "utc": true}]}, "axis": null},
        "y": {"field": "v", "type": "quantitative", "scale": {"domain": [0, 90000], "nice": false, "zero": false}, "axis": null},
        "text": {"field": "t"}
      }
    },
    {
      "data": {"values": [
        {"date": "2020-05-30", "v": 68722, "t": "6,397,227 cases cumulative"},
        {"date": "2020-05-30", "v": 64840, "t": "+37,507 cases today"},
        {"date": "2020-08-04", "v": 10064, "t": "191,789 deaths cumulative"},
        {"date": "2020-08-04", "v": 6182, "t": "+974 deaths today"}
      ]},
      "mark": {"type": "text", "align": "center", "baseline": "middle", "fontSize": 17, "color": "#000000"},
      "encoding": {
        "x": {"field": "date", "type": "temporal", "scale": {"type": "utc", "nice": false, "domain": [{"year": 2019, "month": 12, "date": 30, "hours": 12, "utc": true}, {"year": 2020, "month": 9, "date": 11, "hours": 12, "utc": true}]}, "axis": null},
        "y": {"field": "v", "type": "quantitative", "scale": {"domain": [0, 90000], "nice": false, "zero": false}, "axis": null},
        "text": {"field": "t"}
      }
    },
    {
      "data": {"values": [{"date": "2020-08-21", "v": 27748, "t": "Fatality rate 3.00%"}]},
      "mark": {"type": "text", "align": "right", "baseline": "middle", "fontSize": 16.5, "color": "#000000"},
      "encoding": {
        "x": {"field": "date", "type": "temporal", "scale": {"type": "utc", "nice": false, "domain": [{"year": 2019, "month": 12, "date": 30, "hours": 12, "utc": true}, {"year": 2020, "month": 9, "date": 11, "hours": 12, "utc": true}]}, "axis": null},
        "y": {"field": "v", "type": "quantitative", "scale": {"domain": [0, 90000], "nice": false, "zero": false}, "axis": null},
        "text": {"field": "t"}
      }
    },
    {
      "data": {"values": [{"date": "2020-07-05", "v": 18690, "t": "7-day moving average cases"}]},
      "mark": {"type": "text", "align": "left", "baseline": "middle", "fontSize": 11, "color": "#FF0000"},
      "encoding": {
        "x": {"field": "date", "type": "temporal", "scale": {"type": "utc", "nice": false, "domain": [{"year": 2019, "month": 12, "date": 30, "hours": 12, "utc": true}, {"year": 2020, "month": 9, "date": 11, "hours": 12, "utc": true}]}, "axis": null},
        "y": {"field": "v", "type": "quantitative", "scale": {"domain": [0, 90000], "nice": false, "zero": false}, "axis": null},
        "text": {"field": "t"}
      }
    }
  ]
}
